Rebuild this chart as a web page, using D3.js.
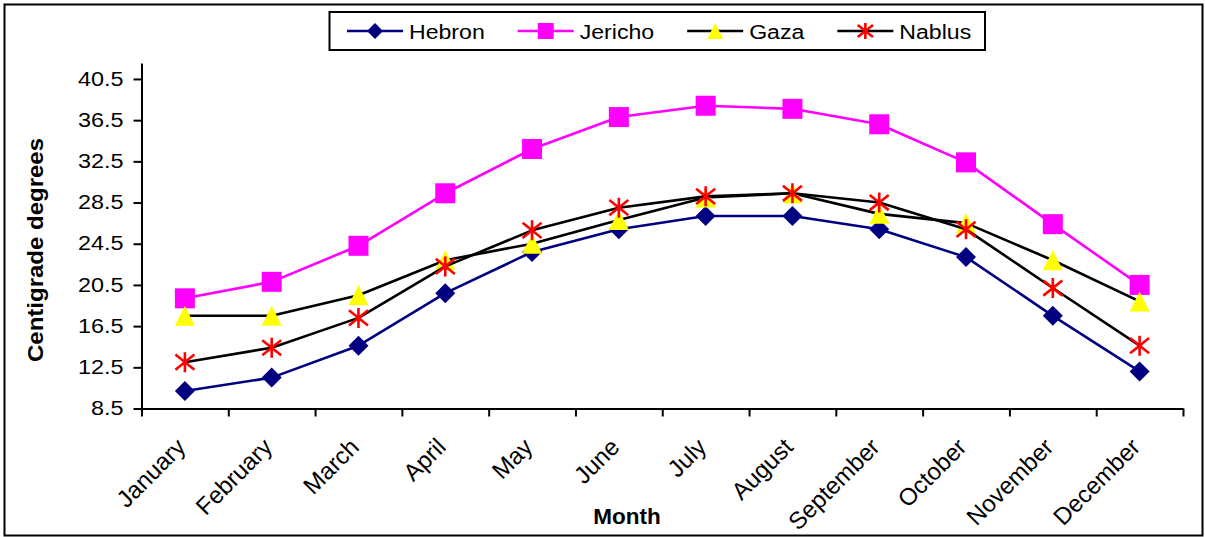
<!DOCTYPE html>
<html>
<head>
<meta charset="utf-8">
<script src="https://cdn.jsdelivr.net/npm/d3@7"></script>
<style>
  html, body { margin: 0; padding: 0; background: #fff; }
  svg { display: block; }
  text { font-family: Arial, "Liberation Sans", sans-serif; fill: #000; }
</style>
</head>
<body>
<svg id="chart" width="1205" height="537"></svg>
<script>
// ---------- data ----------
const months = ["January","February","March","April","May","June","July","August","September","October","November","December"];
const hebron  = [10.2, 11.5, 14.6, 19.7, 23.7, 25.9, 27.2, 27.2, 25.9, 23.2, 17.5, 12.1];
const jericho = [19.2, 20.8, 24.3, 29.4, 33.7, 36.8, 37.9, 37.6, 36.1, 32.4, 26.4, 20.5];
const gaza    = [17.5, 17.5, 19.5, 22.9, 24.5, 26.8, 29.0, 29.4, 27.4, 26.5, 22.9, 18.9];
const nablus  = [13.0, 14.4, 17.3, 22.3, 25.8, 28.0, 29.1, 29.4, 28.5, 25.9, 20.2, 14.6];
const seriesNames = ["Hebron","Jericho","Gaza","Nablus"];
const yTickValues = [8.5, 12.5, 16.5, 20.5, 24.5, 28.5, 32.5, 36.5, 40.5];
const yTitle = "Centigrade degrees";
const xTitle = "Month";

(function () {
// ---------- styles ----------
const seriesStyle = [
  {values: hebron,  line: "#000080", marker: "diamond",  fill: "#000080"},
  {values: jericho, line: "#FF00FF", marker: "square",   fill: "#FF00FF"},
  {values: gaza,    line: "#000000", marker: "triangle", fill: "#FFFF00"},
  {values: nablus,  line: "#000000", marker: "star",     fill: "#FF0000"}
];

const svg = d3.select("#chart");
svg.append("rect").attr("x",0).attr("y",0).attr("width",1205).attr("height",537).attr("fill","#fff");
svg.append("rect").attr("x",4.5).attr("y",4.5).attr("width",1198).attr("height",531)
   .attr("fill","none").attr("stroke","#000").attr("stroke-width",2);

const pLeft = 141.5, pRight = 1183, pBottom = 408.5, pTop = 63;
const x = d3.scaleBand().domain(months).range([pLeft, pRight]).padding(0);
const xb = d3.scaleLinear().domain([0, months.length]).range([pLeft, pRight]);
const y = d3.scaleLinear().domain([8.5, 42.05]).range([pBottom, pTop]);
const cx = m => x(m) + x.bandwidth()/2;

// y axis
const yAxis = svg.append("g").attr("transform",`translate(${pLeft},0)`)
  .call(d3.axisLeft(y).tickValues(yTickValues).tickSize(8).tickSizeOuter(0).tickPadding(10).tickFormat(d3.format(".1f")));
yAxis.select(".domain").attr("stroke","#000").attr("stroke-width",2);
yAxis.selectAll(".tick line").attr("stroke","#000").attr("stroke-width",2);
yAxis.selectAll(".tick text").attr("font-size",19.5).attr("x",-18/1.2).attr("transform","scale(1.2,1)")
  .attr("font-family","Arial, 'Liberation Sans', sans-serif");

// x axis boundary ticks
const xAxis = svg.append("g").attr("transform",`translate(0,${pBottom})`)
  .call(d3.axisBottom(xb).tickValues(d3.range(months.length+1)).tickSize(8).tickSizeOuter(0).tickFormat(""));
xAxis.select(".domain").attr("stroke","#000").attr("stroke-width",2);
xAxis.selectAll(".tick line").attr("stroke","#000").attr("stroke-width",2);

// x labels
const xLab = svg.append("g").attr("transform",`translate(0,${pBottom})`)
  .call(d3.axisBottom(x).tickSize(0));
xLab.select(".domain").remove();
xLab.selectAll(".tick text")
  .attr("font-size",24).attr("font-family","Arial, 'Liberation Sans', sans-serif")
  .attr("x",0).attr("y",0).attr("dy",0)
  .attr("text-anchor","end")
  .attr("transform","translate(2,40) rotate(-45)");

// titles
svg.append("text").attr("transform","translate(43,250) rotate(-90)")
  .attr("text-anchor","middle").attr("font-size",22).attr("font-weight","bold")
  .attr("textLength",224).attr("lengthAdjust","spacingAndGlyphs").text(yTitle);
svg.append("text").attr("x",627).attr("y",524)
  .attr("text-anchor","middle").attr("font-size",22.5).attr("font-weight","bold").text(xTitle);

// markers
function drawMarker(g, type, fill, s) {
  const h = s/2;
  if (type === "diamond") {
    g.append("path").attr("d",`M0,${-h}L${h},0L0,${h}L${-h},0Z`).attr("fill",fill);
  } else if (type === "square") {
    g.append("rect").attr("x",-h).attr("y",-h).attr("width",s).attr("height",s).attr("fill",fill);
  } else if (type === "triangle") {
    g.append("path").attr("d",`M0,${-h}L${h},${h}L${-h},${h}Z`).attr("fill",fill);
  } else if (type === "star") {
    const d = h*0.95;
    g.append("path").attr("d",`M0,${-h}L0,${h}M${-d},${-d*0.8}L${d},${d*0.8}M${-d},${d*0.8}L${d},${-d*0.8}`)
      .attr("stroke",fill).attr("stroke-width",2.6).attr("fill","none");
  }
}

const line = d3.line().x((d,i) => cx(months[i])).y(d => y(d));
seriesStyle.forEach(s => {
  const g = svg.append("g");
  g.append("path").datum(s.values).attr("d", line)
    .attr("fill","none").attr("stroke", s.line).attr("stroke-width",2.6).attr("stroke-linejoin","round");
  s.values.forEach((v,i) => {
    const mg = g.append("g").attr("transform",`translate(${cx(months[i])},${y(v)})`);
    drawMarker(mg, s.marker, s.fill, 20);
  });
});

// legend
const leg = svg.append("g");
leg.append("rect").attr("x",329.5).attr("y",12).attr("width",655.5).attr("height",38)
  .attr("fill","#fff").attr("stroke","#000").attr("stroke-width",2);
let lx = 347;
const ly = 31;
seriesNames.forEach((name,i) => {
  const s = seriesStyle[i];
  leg.append("line").attr("x1",lx).attr("x2",lx+56).attr("y1",ly).attr("y2",ly)
    .attr("stroke",s.line).attr("stroke-width",2.6);
  const mg = leg.append("g").attr("transform",`translate(${lx+28},${ly})`);
  drawMarker(mg, s.marker, s.fill, 16);
  const t = leg.append("text").attr("font-size",21)
    .attr("transform",`translate(${lx+62},${ly+7.5}) scale(1.1,1)`).text(name);
  const w = t.node().getComputedTextLength()*1.1;
  lx = lx + 62 + w + 33;
});
})();
</script>
</body>
</html>
